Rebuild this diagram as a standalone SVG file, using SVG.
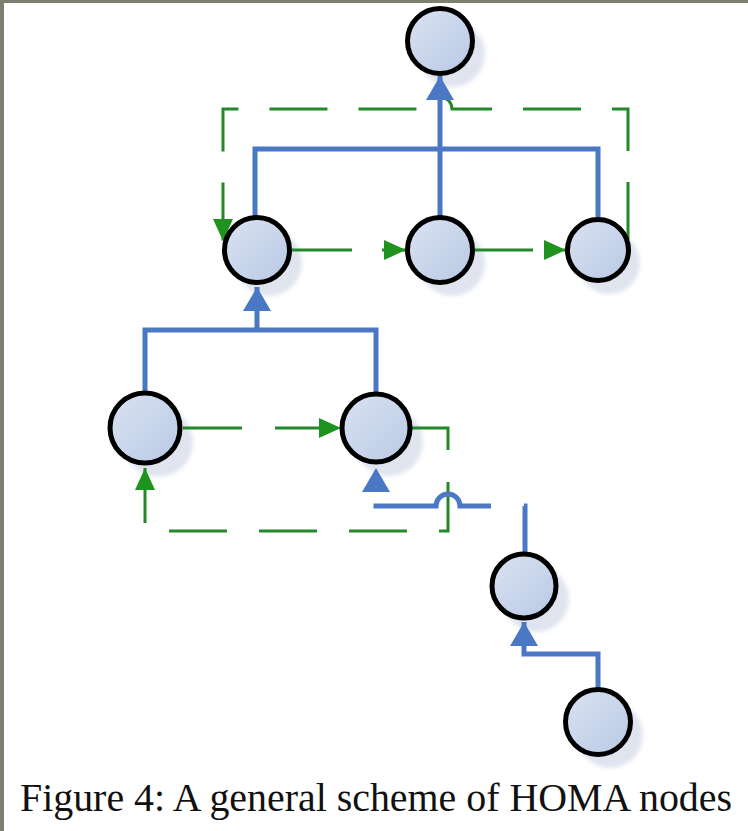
<svg xmlns="http://www.w3.org/2000/svg" width="748" height="831" viewBox="0 0 748 831">
<style>
.shadow{fill:#dfe4ef;filter:url(#blur)}
.node{fill:url(#ng);stroke:#000;stroke-width:5}
.blue{fill:none;stroke:#4a78c4;stroke-width:5}
.green{fill:none;stroke:#22882a;stroke-width:3}
.cap{font-family:"Liberation Serif","Times New Roman",serif;font-size:40px;fill:#111}
</style>
<defs>
<linearGradient id="ng" x1="0" y1="0" x2="1" y2="1">
<stop offset="0" stop-color="#dbe3f2"/>
<stop offset="1" stop-color="#b8c8e4"/>
</linearGradient>
<filter id="blur" x="-30%" y="-30%" width="160%" height="160%"><feGaussianBlur stdDeviation="2"/></filter>
<marker id="ba" markerUnits="userSpaceOnUse" markerWidth="26" markerHeight="28" refX="24" refY="14" orient="auto"><path d="M0,0 L24,14 L0,28 z" fill="#4a78c4"/></marker>
<marker id="ga" markerUnits="userSpaceOnUse" markerWidth="24" markerHeight="22" refX="22" refY="10" orient="auto"><path d="M0,0 L22,10 L0,20 z" fill="#1e931e"/></marker>
</defs>
<rect x="0" y="0" width="748" height="831" fill="#fff"/>
<rect x="0" y="0" width="748" height="3" fill="#7e7f70"/>
<rect x="0" y="0" width="4" height="831" fill="#7e7f70"/>
<g id="shadows">
<circle class="shadow" cx="452" cy="54" r="33"/>
<circle class="shadow" cx="269" cy="263" r="33"/>
<circle class="shadow" cx="452" cy="263" r="33"/>
<circle class="shadow" cx="609" cy="263" r="31"/>
<circle class="shadow" cx="158" cy="442" r="35"/>
<circle class="shadow" cx="389" cy="442" r="34"/>
<circle class="shadow" cx="536" cy="599" r="33"/>
<circle class="shadow" cx="610" cy="735" r="33"/>
</g>
<g id="connectors">
<path class="green" d="M628 240 V109 H452 A12 12 0 0 0 428 109 H223 V241" stroke-dasharray="58 31" marker-end="url(#ga)"/>
<path class="green" d="M292 250 H406" stroke-dasharray="60 30" marker-end="url(#ga)"/>
<path class="green" d="M475 250 H566" stroke-dasharray="58 30" marker-end="url(#ga)"/>
<path class="green" d="M183 428 H341" stroke-dasharray="59 33" marker-end="url(#ga)"/>
<path class="green" d="M412 428 H448 V531 H145 V468" stroke-dasharray="58 32" marker-end="url(#ga)"/>
<path class="blue" d="M255 216 V149 H598 V217"/>
<path class="blue" d="M440 216 V76" marker-end="url(#ba)"/>
<path class="blue" d="M145 393 V330 H376 V393"/>
<path class="blue" d="M257 330 V287" marker-end="url(#ba)"/>
<path class="blue" d="M525 552 V506 H460 A12 12 0 0 0 436 506 H376 V468" stroke-dasharray="47 33 131 200" marker-end="url(#ba)"/>
<path class="blue" d="M598 688 V654 H524 V622" marker-end="url(#ba)"/>
</g>
<g id="n0"><circle class="node" cx="440" cy="41" r="32.5"/></g>
<g id="n1"><circle class="node" cx="257" cy="250" r="32.5"/></g>
<g id="n2"><circle class="node" cx="440" cy="250" r="32.5"/></g>
<g id="n3"><circle class="node" cx="598" cy="250" r="30.5"/></g>
<g id="n4"><circle class="node" cx="145" cy="428" r="35"/></g>
<g id="n5"><circle class="node" cx="376" cy="428" r="34"/></g>
<g id="n6"><circle class="node" cx="524" cy="586" r="32"/></g>
<g id="n7"><circle class="node" cx="598" cy="722" r="32.5"/></g>
<text class="cap" x="20" y="811" textLength="712" lengthAdjust="spacingAndGlyphs">Figure 4: A general scheme of HOMA nodes</text>
</svg>
